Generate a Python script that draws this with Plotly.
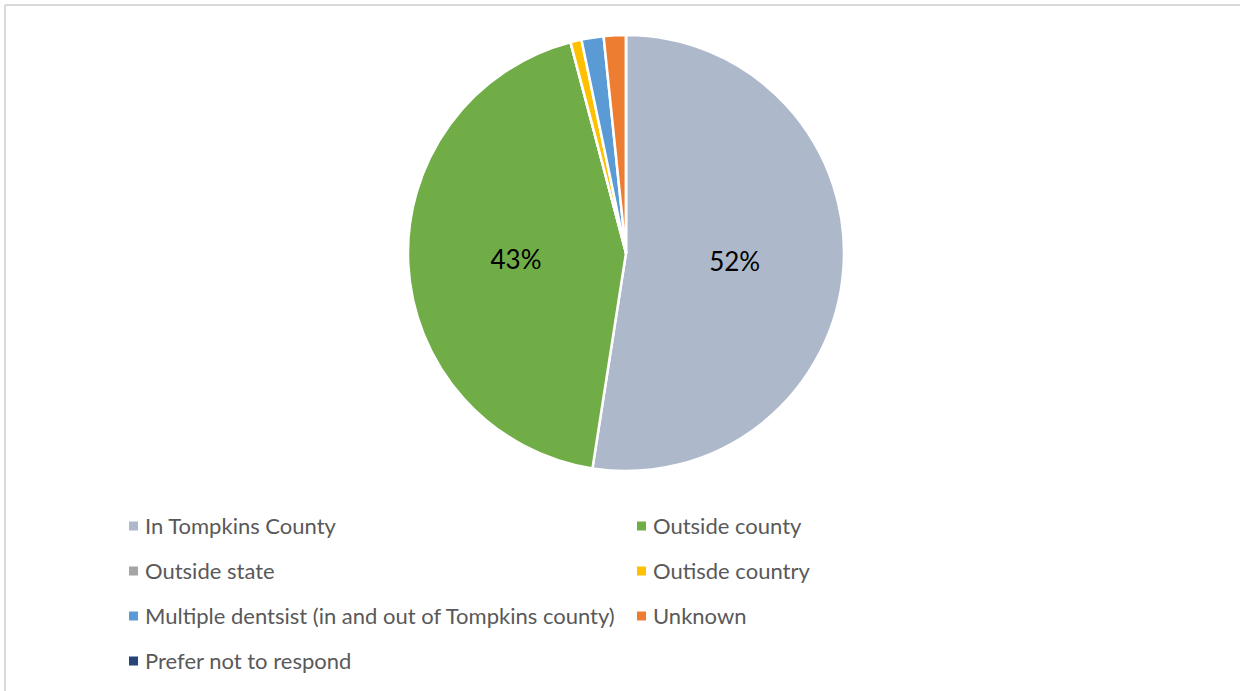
import plotly.graph_objects as go

# Where respondents' dentists are located (response counts)
categories = [
    "In Tompkins County",
    "Outside county",
    "Outside state",
    "Outisde country",
    "Multiple dentsist (in and out of Tompkins county)",
    "Unknown",
    "Prefer not to respond",
]
counts = [64, 53, 0, 1, 2, 2, 0]
colors = ["#ADB9CA", "#70AD47", "#A5A5A5", "#FFC000", "#5B9BD5", "#ED7D31", "#264478"]
labelled = [True, True, False, False, False, False, False]

W, H = 1240, 691
FONT = "Lato"


def px_x(x):
    return x / W


def px_y(y):
    return 1 - y / H


cx, cy, r = 626, 253, 218

fig = go.Figure()
fig.add_trace(go.Pie(
    labels=categories,
    values=counts,
    marker=dict(colors=colors, line=dict(color="white", width=2.5)),
    sort=False,
    direction="clockwise",
    rotation=0,
    texttemplate=["%{percent:.0%}" if s else "" for s in labelled],
    textposition="inside",
    insidetextorientation="horizontal",
    textfont=dict(family=FONT, size=26, color="#000000"),
    hoverinfo="label+value+percent",
    showlegend=False,
    domain=dict(x=[px_x(cx - r), px_x(cx + r)], y=[px_y(cy + r), px_y(cy - r)]),
))

# Two-column legend drawn beneath the pie
shapes = []
annotations = []
col_x = [129, 637]
row_y = [526, 571, 616, 661]
for i, (name, col) in enumerate(zip(categories, colors)):
    x0 = col_x[i % 2]
    yc = row_y[i // 2]
    shapes.append(dict(type="rect", xref="paper", yref="paper",
                       x0=px_x(x0), x1=px_x(x0 + 9),
                       y0=px_y(yc + 4.5), y1=px_y(yc - 4.5),
                       fillcolor=col, line=dict(width=0)))
    annotations.append(dict(x=px_x(x0 + 14), y=px_y(yc - 1), xref="paper", yref="paper",
                            text=name, showarrow=False, xanchor="left", yanchor="middle",
                            font=dict(family=FONT, size=22, color="#595959")))

# Chart frame
frame = dict(color="#D9D9D9", width=2)
shapes.append(dict(type="line", xref="paper", yref="paper",
                   x0=px_x(5), x1=1, y0=px_y(5), y1=px_y(5), line=frame))
shapes.append(dict(type="line", xref="paper", yref="paper",
                   x0=px_x(5), x1=px_x(5), y0=px_y(5), y1=0, line=frame))

fig.update_layout(
    width=W, height=H,
    margin=dict(l=0, r=0, t=0, b=0),
    paper_bgcolor="white",
    plot_bgcolor="white",
    shapes=shapes,
    annotations=annotations,
    showlegend=False,
)

fig.write_html("out.html")
